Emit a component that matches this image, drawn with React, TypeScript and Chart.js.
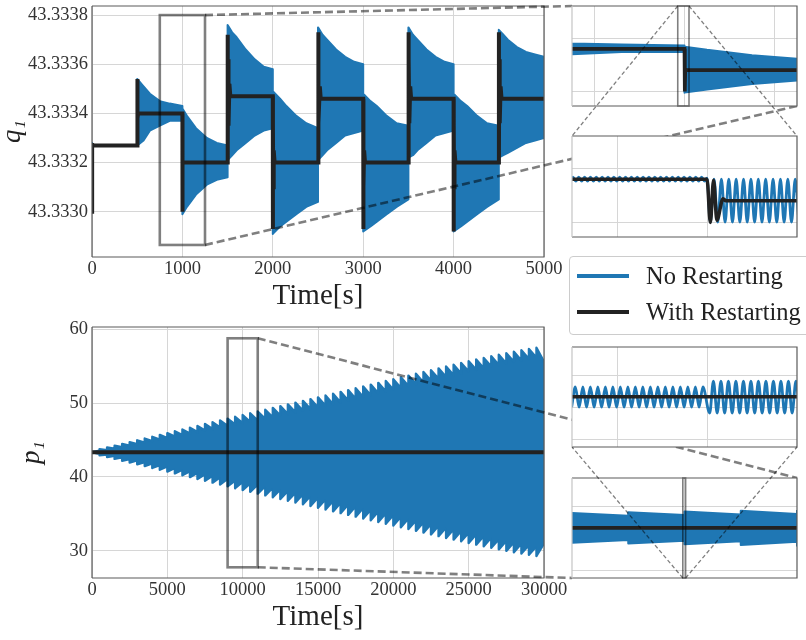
import React, { useEffect, useRef } from 'react';
import { Chart, registerables } from 'chart.js';

Chart.register(...registerables);

// ---------------- q1 (top panel) ----------------
const qXTicks = [0, 1000, 2000, 3000, 4000, 5000];
const qYTicks = [43.333, 43.3332, 43.3334, 43.3336, 43.3338];
const qInsetYTicks = [43.333, 43.3335];

// envelope of the fast oscillation ("No Restarting")
const qEnvT = [0, 2, 500, 500, 570, 640, 750, 860, 1000, 1000, 1050, 1150, 1270, 1380, 1500, 1500, 1550, 1600, 1700, 1800, 1900, 2000, 2000, 2080, 2150, 2260, 2370, 2500, 2500, 2550, 2600, 2700, 2800, 2900, 3000, 3000, 3080, 3150, 3260, 3370, 3500, 3500, 3550, 3600, 3700, 3800, 3900, 4000, 4000, 4080, 4150, 4260, 4370, 4500, 4500, 4550, 4600, 4700, 4800, 4900, 5000];
const qEnvUpper = [43.33328, 43.33327, 43.33327, 43.33354, 43.33351, 43.33348, 43.33345, 43.33344, 43.33343, 43.33342, 43.33339, 43.33334, 43.3333, 43.33328, 43.33327, 43.33376, 43.33373, 43.33371, 43.33366, 43.33362, 43.33359, 43.33358, 43.33349, 43.33346, 43.33343, 43.33339, 43.33336, 43.33334, 43.33375, 43.33372, 43.3337, 43.33366, 43.33363, 43.33361, 43.3336, 43.33348, 43.33345, 43.33343, 43.33339, 43.33336, 43.33335, 43.33375, 43.33372, 43.3337, 43.33366, 43.33363, 43.33361, 43.3336, 43.33348, 43.33345, 43.33343, 43.33339, 43.33336, 43.33335, 43.33374, 43.33372, 43.3337, 43.33367, 43.33365, 43.33364, 43.33363];
const qEnvLower = [43.333, 43.33327, 43.33327, 43.33327, 43.33329, 43.33333, 43.33335, 43.33337, 43.33337, 43.33299, 43.33302, 43.33307, 43.33311, 43.33313, 43.33314, 43.33321, 43.33323, 43.33325, 43.33328, 43.33331, 43.33333, 43.33334, 43.33291, 43.33294, 43.33296, 43.33299, 43.33302, 43.33304, 43.33321, 43.33323, 43.33325, 43.33328, 43.33331, 43.33332, 43.33333, 43.33292, 43.33294, 43.33296, 43.33299, 43.33302, 43.33305, 43.33322, 43.33323, 43.33325, 43.33328, 43.33331, 43.33332, 43.33333, 43.33292, 43.33294, 43.33296, 43.33299, 43.33302, 43.33305, 43.33322, 43.33323, 43.33324, 43.33326, 43.33328, 43.33329, 43.3333];

// "With Restarting"
const qRestartT = [0, 0, 3, 500, 500.6, 501.5, 503, 506, 510, 1000, 1000.37, 1000.73, 1001.1, 1001.78, 1002.1, 1500, 1500.6, 1502, 1505, 1510, 1520, 1530, 2000, 2000.6, 2002, 2005, 2010, 2020, 2500, 2500.6, 2502, 2505, 2510, 2520, 2530, 3000, 3000.6, 3002, 3005, 3010, 3020, 3500, 3500.6, 3502, 3505, 3510, 3520, 3530, 4000, 4000.6, 4002, 4005, 4010, 4020, 4500, 4500.6, 4502, 4505, 4510, 4520, 4530, 5000];
const qRestartV = [43.333, 43.33328, 43.33327, 43.33327, 43.33354, 43.33331, 43.33345, 43.33338, 43.3334, 43.3334, 43.333, 43.33339, 43.33302, 43.33322, 43.3332, 43.3332, 43.33372, 43.33324, 43.33362, 43.33335, 43.33352, 43.33347, 43.33347, 43.33293, 43.33335, 43.3331, 43.33325, 43.3332, 43.3332, 43.33373, 43.33322, 43.33362, 43.33336, 43.33351, 43.33346, 43.33346, 43.33293, 43.33335, 43.3331, 43.33325, 43.3332, 43.3332, 43.33373, 43.33322, 43.33362, 43.33336, 43.33351, 43.33346, 43.33346, 43.33292, 43.33335, 43.3331, 43.33325, 43.3332, 43.3332, 43.33373, 43.33322, 43.33362, 43.33336, 43.33351, 43.33346, 43.33346];

// fine-resolution oscillation around t = 1000 (extrema)
const qDetailT = [984.78, 985.1, 985.43, 985.75, 986.08, 986.4, 986.73, 987.05, 987.38, 987.7, 988.03, 988.35, 988.68, 989.0, 989.33, 989.65, 989.98, 990.3, 990.63, 990.95, 991.28, 991.6, 991.93, 992.25, 992.58, 992.9, 993.23, 993.55, 993.88, 994.2, 994.53, 994.85, 995.18, 995.5, 995.83, 996.15, 996.48, 996.8, 997.13, 997.45, 997.78, 998.1, 998.43, 998.75, 999.08, 999.4, 999.73, 1000.0, 1000.37, 1000.78, 1001.19, 1001.6, 1002.01, 1002.42, 1002.83, 1003.24, 1003.65, 1004.06, 1004.47, 1004.88, 1005.29, 1005.7, 1006.11, 1006.52, 1006.93, 1007.34, 1007.75, 1008.16, 1008.57, 1008.98, 1009.39, 1009.8, 1010.21];
const qDetailV = [
  43.333382,
  43.333418, 43.333382, 43.333418, 43.333382, 43.333418, 43.333382, 43.333418, 43.333382,
  43.333418, 43.333382, 43.333418, 43.333382, 43.333418, 43.333382, 43.333418, 43.333382,
  43.333418, 43.333382, 43.333418, 43.333382, 43.333418, 43.333382, 43.333418, 43.333382,
  43.333418, 43.333382, 43.333418, 43.333382, 43.333418, 43.333382, 43.333418, 43.333382,
  43.333418, 43.333382, 43.333418, 43.333382, 43.333418, 43.333382, 43.333418, 43.333382,
  43.333418, 43.333382, 43.333418, 43.333382, 43.333418, 43.333382,
  43.33341,
  43.333002, 43.3334, 43.333002, 43.3334, 43.333002, 43.3334, 43.333002, 43.3334,
  43.333002, 43.3334, 43.333002, 43.3334, 43.333002, 43.3334, 43.333002, 43.3334,
  43.333002, 43.3334, 43.333002, 43.3334, 43.333002, 43.3334, 43.333002, 43.3334,
  43.333002,
];

// ---------------- p1 (bottom panel) ----------------
const pXTicks = [0, 5000, 10000, 15000, 20000, 25000, 30000];
const pYTicks = [30, 40, 50, 60];
const pInsetYTicks = [30, 40, 50];

const pToothT = [0, 500, 1000, 1500, 2000, 2500, 3000, 3500, 4000, 4500, 5000, 5500, 6000, 6500, 7000, 7500, 8000, 8500, 9000, 9500, 10000, 10500, 11000, 11500, 12000, 12500, 13000, 13500, 14000, 14500, 15000, 15500, 16000, 16500, 17000, 17500, 18000, 18500, 19000, 19500, 20000, 20500, 21000, 21500, 22000, 22500, 23000, 23500, 24000, 24500, 25000, 25500, 26000, 26500, 27000, 27500, 28000, 28500, 29000, 29500];
const pUpStart = [43.33, 43.75, 43.98, 44.22, 44.47, 44.71, 44.96, 45.2, 45.44, 45.69, 45.93, 46.18, 46.42, 46.67, 46.91, 47.16, 47.4, 47.65, 47.89, 48.14, 48.38, 48.62, 48.86, 49.1, 49.34, 49.58, 49.82, 50.06, 50.3, 50.54, 50.78, 51.03, 51.27, 51.52, 51.76, 52.01, 52.25, 52.5, 52.74, 52.99, 53.23, 53.48, 53.72, 53.97, 54.21, 54.46, 54.7, 54.95, 55.19, 55.44, 55.68, 55.9, 56.12, 56.34, 56.55, 56.76, 56.96, 57.15, 57.33, 57.5];
const pUpEnd = [43.55, 43.63, 43.82, 44.02, 44.23, 44.43, 44.64, 44.84, 45.04, 45.25, 45.45, 45.66, 45.86, 46.07, 46.27, 46.48, 46.68, 46.89, 47.09, 47.28, 47.46, 47.64, 47.86, 48.08, 48.3, 48.52, 48.74, 48.96, 49.18, 49.4, 49.62, 49.85, 50.09, 50.34, 50.58, 50.83, 51.07, 51.32, 51.56, 51.81, 52.05, 52.3, 52.54, 52.79, 53.03, 53.28, 53.52, 53.77, 54.01, 54.26, 54.5, 54.72, 54.94, 55.16, 55.37, 55.58, 55.78, 55.97, 56.15, 55.6];
const pLoStart = [43.33, 42.92, 42.68, 42.44, 42.19, 41.95, 41.7, 41.46, 41.21, 40.97, 40.72, 40.47, 40.22, 39.97, 39.72, 39.47, 39.22, 38.97, 38.72, 38.47, 38.22, 37.97, 37.73, 37.49, 37.25, 37.01, 36.77, 36.53, 36.29, 36.05, 35.81, 35.57, 35.33, 35.09, 34.85, 34.61, 34.37, 34.13, 33.89, 33.65, 33.41, 33.17, 32.93, 32.69, 32.45, 32.21, 31.97, 31.73, 31.5, 31.27, 31.04, 30.82, 30.6, 30.39, 30.18, 29.98, 29.79, 29.61, 29.44, 29.28];
const pLoEnd = [43.12, 43.04, 42.84, 42.64, 42.43, 42.23, 42.02, 41.82, 41.61, 41.41, 41.2, 40.99, 40.78, 40.57, 40.36, 40.15, 39.94, 39.73, 39.52, 39.33, 39.14, 38.97, 38.75, 38.53, 38.31, 38.09, 37.87, 37.65, 37.43, 37.21, 36.99, 36.75, 36.51, 36.27, 36.03, 35.79, 35.55, 35.31, 35.07, 34.83, 34.59, 34.35, 34.11, 33.87, 33.63, 33.39, 33.15, 32.91, 32.68, 32.45, 32.22, 32.0, 31.78, 31.57, 31.36, 31.16, 30.97, 30.79, 30.62, 31.0];

const pRestartT = [0, 30000];
const pRestartV = [43.33, 43.33];

const pDetailT = [9984.96, 9985.37, 9985.79, 9986.21, 9986.62, 9987.04, 9987.46, 9987.87, 9988.29, 9988.71, 9989.12, 9989.54, 9989.96, 9990.37, 9990.79, 9991.21, 9991.62, 9992.04, 9992.46, 9992.87, 9993.29, 9993.71, 9994.12, 9994.54, 9994.96, 9995.37, 9995.79, 9996.21, 9996.62, 9997.04, 9997.46, 9997.87, 9998.29, 9998.71, 9999.12, 9999.54, 10000.3, 10000.71, 10001.13, 10001.55, 10001.96, 10002.38, 10002.8, 10003.21, 10003.63, 10004.05, 10004.46, 10004.88, 10005.3, 10005.71, 10006.13, 10006.55, 10006.96, 10007.38, 10007.8, 10008.21, 10008.63, 10009.05, 10009.46, 10009.88, 10010.3];
const pDetailV = [
  40.1, 46.4, 40.1, 46.4, 40.1, 46.4, 40.1, 46.4, 40.1, 46.4, 40.1, 46.4,
  40.1, 46.4, 40.1, 46.4, 40.1, 46.4, 40.1, 46.4, 40.1, 46.4, 40.1, 46.4,
  40.1, 46.4, 40.1, 46.4, 40.1, 46.4, 40.1, 46.4, 40.1, 46.4, 40.1, 46.4,
  38.3, 48.2, 38.3, 48.2, 38.3, 48.2, 38.3, 48.2, 38.3, 48.2, 38.3, 48.2,
  38.3, 48.2, 38.3, 48.2, 38.3, 48.2, 38.3, 48.2, 38.3, 48.2, 38.3, 48.2,
  38.3,
];

// zoom windows
const qMainX = [0, 5000];
const qMainY = [43.332816, 43.333837];
const pMainX = [0, 30000];
const pMainY = [26.3, 60.31];
const in1X = [750, 1250];
const in2X = [985, 1010];
const qZoomY = [43.332865, 43.3338];
const in3X = [9985, 10010];
const in4X = [9000, 11000];
const pZoomY = [27.75, 58.78];
const in1XTicks = [800, 1000, 1200];
const in2XTicks = [990, 1000];
const in3XTicks = [9990, 10000];
const in4XTicks = [10000];

// ---------------- styling ----------------
const BLUE = '#1f77b4';
const BLACK = '#222222';
const GRID = '#d6d6d6';
const SPINE = '#5a5a5a';
const FONT = "'Liberation Serif', 'Times New Roman', serif";

type Rect = { x0: number; x1: number; y0: number; y1: number; lw: number };

const pts = (xs: number[], ys: number[]) => xs.map((x, i) => ({ x, y: ys[i] }));

function teeth(tooth: number[], starts: number[], ends: number[], tEnd: number) {
  const out: { x: number; y: number }[] = [];
  for (let k = 0; k < tooth.length; k++) {
    out.push({ x: tooth[k], y: starts[k] });
    out.push({ x: k + 1 < tooth.length ? tooth[k + 1] : tEnd, y: ends[k] });
  }
  return out;
}

function framePlugin(rects: Rect[], bg: boolean, leftColor: string) {
  return {
    id: 'frame',
    beforeDraw(chart: any) {
      if (!bg) return;
      const { ctx, chartArea: a } = chart;
      ctx.save();
      ctx.fillStyle = '#ffffff';
      ctx.fillRect(a.left, a.top, a.right - a.left, a.bottom - a.top);
      ctx.restore();
    },
    afterDatasetsDraw(chart: any) {
      const { ctx } = chart;
      const x = chart.scales.x;
      const y = chart.scales.y;
      ctx.save();
      ctx.strokeStyle = 'rgba(0,0,0,0.5)';
      rects.forEach((r) => {
        ctx.lineWidth = r.lw;
        const px0 = x.getPixelForValue(r.x0);
        const px1 = x.getPixelForValue(r.x1);
        const py0 = y.getPixelForValue(r.y1);
        const py1 = y.getPixelForValue(r.y0);
        ctx.strokeRect(px0, py0, px1 - px0, py1 - py0);
      });
      ctx.restore();
    },
    afterDraw(chart: any) {
      const { ctx, chartArea: a } = chart;
      ctx.save();
      ctx.lineWidth = 1.2;
      ctx.strokeStyle = SPINE;
      ctx.beginPath();
      ctx.moveTo(a.left, a.top);
      ctx.lineTo(a.right, a.top);
      ctx.lineTo(a.right, a.bottom);
      ctx.lineTo(a.left, a.bottom);
      ctx.stroke();
      ctx.strokeStyle = leftColor;
      ctx.beginPath();
      ctx.moveTo(a.left, a.top);
      ctx.lineTo(a.left, a.bottom);
      ctx.stroke();
      ctx.restore();
    },
  };
}

type AxisSpec = {
  range: number[];
  ticks: number[];
  size: number;
  fmt?: (v: number) => string;
  title?: string;
  titlePad?: number;
};

function axis(spec: AxisSpec, horizontal: boolean, labels: boolean) {
  return {
    type: 'linear',
    position: horizontal ? 'bottom' : 'left',
    min: spec.range[0],
    max: spec.range[1],
    afterBuildTicks: (s: any) => {
      s.ticks = spec.ticks.map((v) => ({ value: v }));
    },
    afterFit: (s: any) => {
      if (horizontal) s.height = spec.size;
      else s.width = spec.size;
      s.paddingTop = 0;
      s.paddingBottom = 0;
      s.paddingLeft = 0;
      s.paddingRight = 0;
    },
    grid: { color: GRID, lineWidth: 1, drawTicks: false },
    border: { display: false },
    ticks: {
      display: labels,
      autoSkip: false,
      maxRotation: 0,
      padding: horizontal ? 1 : 4,
      color: '#333333',
      font: { family: FONT, size: 18.5 },
      callback: (v: any) => (spec.fmt ? spec.fmt(Number(v)) : String(v)),
    },
    title: spec.title
      ? {
          display: true,
          text: spec.title,
          color: '#222222',
          font: horizontal
            ? { family: FONT, size: 29, lineHeight: 1 }
            : { family: FONT, size: 27, style: 'italic', lineHeight: 1 },
          padding: horizontal ? { top: 0, bottom: spec.titlePad || 0 } : { top: spec.titlePad || 0, bottom: 0 },
        }
      : { display: false },
  };
}

function config(datasets: any[], x: AxisSpec, y: AxisSpec, padding: any, labels: boolean, rects: Rect[], bg: boolean, leftColor: string) {
  return {
    type: 'line',
    data: { datasets },
    options: {
      responsive: false,
      animation: false,
      devicePixelRatio: 1,
      events: [],
      layout: { padding, autoPadding: false },
      plugins: { legend: { display: false }, tooltip: { enabled: false } },
      elements: { point: { radius: 0 }, line: { tension: 0 } },
      scales: { x: axis(x, true, labels), y: axis(y, false, labels) },
    },
    plugins: [framePlugin(rects, bg, leftColor)],
  } as any;
}

const blackDs = (data: any[], bw: number, smooth = false) => ({
  data, borderColor: BLACK, borderWidth: bw, fill: false, pointRadius: 0, clip: 0, order: 0,
  cubicInterpolationMode: smooth ? 'monotone' : 'default',
});
const upperDs = (data: any[], bw: number) => ({
  data, borderColor: BLUE, backgroundColor: BLUE, borderWidth: bw, fill: '+1', pointRadius: 0, clip: 0, order: 2,
  borderJoinStyle: 'round',
});
const lowerDs = (data: any[], bw: number) => ({
  data, borderColor: BLUE, borderWidth: bw, fill: false, pointRadius: 0, clip: 0, order: 3,
  borderJoinStyle: 'round',
});
const waveDs = (data: any[], bw: number) => ({
  data, borderColor: BLUE, borderWidth: bw, fill: false, pointRadius: 0, clip: 0, order: 1, cubicInterpolationMode: 'monotone',
});

// canvas placements
const POS = {
  q: { left: 0, top: 0, w: 570, h: 311 },
  p: { left: 0, top: 311, w: 570, h: 329 },
  i1: { left: 570, top: 4, w: 229, h: 104 },
  i2: { left: 570, top: 134, w: 229, h: 105 },
  i3: { left: 570, top: 345, w: 229, h: 104 },
  i4: { left: 570, top: 476, w: 229, h: 104 },
};

export default function App() {
  const qRef = useRef<HTMLCanvasElement>(null);
  const pRef = useRef<HTMLCanvasElement>(null);
  const i1Ref = useRef<HTMLCanvasElement>(null);
  const i2Ref = useRef<HTMLCanvasElement>(null);
  const i3Ref = useRef<HTMLCanvasElement>(null);
  const i4Ref = useRef<HTMLCanvasElement>(null);
  const bigRef = useRef<HTMLCanvasElement>(null);
  const thinRef = useRef<HTMLCanvasElement>(null);

  useEffect(() => {
    const qEnvU = pts(qEnvT, qEnvUpper);
    const qEnvL = pts(qEnvT, qEnvLower);
    const qBlack = pts(qRestartT, qRestartV);
    const qBlackNear = qBlack.filter((d) => d.x >= 506 && d.x <= 1500);
    const qWave = pts(qDetailT, qDetailV);
    const pEnvU = teeth(pToothT, pUpStart, pUpEnd, pMainX[1]);
    const pEnvL = teeth(pToothT, pLoStart, pLoEnd, pMainX[1]);
    const pBlack = pts(pRestartT, pRestartV);
    const pWave = pts(pDetailT, pDetailV);

    const fmtQ = (v: number) => v.toFixed(4);
    const pad0 = { left: 2, right: 2, top: 2, bottom: 2 };

    const q = new Chart(qRef.current!, config(
      [blackDs(qBlack, 4), upperDs(qEnvU, 2), lowerDs(qEnvL, 2)],
      { range: qMainX, ticks: qXTicks, size: 54, title: 'Time[s]', titlePad: 0 },
      { range: qMainY, ticks: qYTicks, size: 92, fmt: fmtQ, title: 'q\u2081', titlePad: -1 },
      { left: 0, right: 26, top: 6, bottom: 0 }, true,
      [{ x0: in1X[0], x1: in1X[1], y0: qZoomY[0], y1: qZoomY[1], lw: 2.6 }], false, SPINE,
    ));
    const p = new Chart(pRef.current!, config(
      [blackDs(pBlack, 4), upperDs(pEnvU, 2.4), lowerDs(pEnvL, 2.4)],
      { range: pMainX, ticks: pXTicks, size: 62, title: 'Time[s]', titlePad: 8 },
      { range: pMainY, ticks: pYTicks, size: 92, title: 'p\u2081', titlePad: 18 },
      { left: 0, right: 26, top: 16, bottom: 0 }, true,
      [{ x0: in4X[0], x1: in4X[1], y0: pZoomY[0], y1: pZoomY[1], lw: 2.6 }], false, SPINE,
    ));
    const i1 = new Chart(i1Ref.current!, config(
      [blackDs(qBlack, 3.7), upperDs(qEnvU, 2), lowerDs(qEnvL, 2)],
      { range: in1X, ticks: in1XTicks, size: 0 },
      { range: qZoomY, ticks: qInsetYTicks, size: 0 },
      pad0, false,
      [{ x0: in2X[0], x1: in2X[1], y0: qZoomY[0], y1: qZoomY[1], lw: 1.6 }], true, '#c4c4c4',
    ));
    const i2 = new Chart(i2Ref.current!, config(
      [blackDs(qBlackNear, 3.5, true), waveDs(qWave, 2.8)],
      { range: in2X, ticks: in2XTicks, size: 0 },
      { range: qZoomY, ticks: qInsetYTicks, size: 0 },
      pad0, false, [], true, '#c4c4c4',
    ));
    const i3 = new Chart(i3Ref.current!, config(
      [blackDs(pBlack, 3.5), waveDs(pWave, 2.8)],
      { range: in3X, ticks: in3XTicks, size: 0 },
      { range: pZoomY, ticks: pInsetYTicks, size: 0 },
      pad0, false, [], true, '#c4c4c4',
    ));
    const i4 = new Chart(i4Ref.current!, config(
      [blackDs(pBlack, 3.7), upperDs(pEnvU, 2), lowerDs(pEnvL, 2)],
      { range: in4X, ticks: in4XTicks, size: 0 },
      { range: pZoomY, ticks: pInsetYTicks, size: 0 },
      pad0, false,
      [{ x0: in3X[0], x1: in3X[1], y0: pZoomY[0], y1: pZoomY[1], lw: 1.6 }], true, '#c4c4c4',
    ));

    const at = (c: any, pos: any, xv: number, yv: number) => ({
      x: pos.left + c.scales.x.getPixelForValue(xv),
      y: pos.top + c.scales.y.getPixelForValue(yv),
    });
    const corner = (c: any, pos: any, h: 'l' | 'r', v: 't' | 'b') => ({
      x: pos.left + (h === 'l' ? c.chartArea.left : c.chartArea.right),
      y: pos.top + (v === 't' ? c.chartArea.top : c.chartArea.bottom),
    });
    const line = (ctx: CanvasRenderingContext2D, a: any, b: any) => {
      ctx.beginPath();
      ctx.moveTo(a.x, a.y);
      ctx.lineTo(b.x, b.y);
      ctx.stroke();
    };

    const big = bigRef.current!.getContext('2d')!;
    big.clearRect(0, 0, 806, 640);
    big.strokeStyle = 'rgba(0,0,0,0.5)';
    big.lineWidth = 2.6;
    big.setLineDash([8, 4]);
    line(big, at(q, POS.q, in1X[1], qZoomY[1]), corner(i1, POS.i1, 'l', 't'));
    line(big, at(q, POS.q, in1X[1], qZoomY[0]), corner(i1, POS.i1, 'r', 'b'));
    line(big, at(p, POS.p, in4X[1], pZoomY[1]), corner(i4, POS.i4, 'r', 't'));
    line(big, at(p, POS.p, in4X[1], pZoomY[0]), corner(i4, POS.i4, 'l', 'b'));

    const thin = thinRef.current!.getContext('2d')!;
    thin.clearRect(0, 0, 806, 640);
    thin.strokeStyle = 'rgba(0,0,0,0.5)';
    thin.lineWidth = 1.3;
    thin.setLineDash([4, 2.5]);
    line(thin, at(i1, POS.i1, in2X[0], qZoomY[1]), corner(i2, POS.i2, 'l', 't'));
    line(thin, at(i1, POS.i1, in2X[1], qZoomY[1]), corner(i2, POS.i2, 'r', 't'));
    line(thin, at(i4, POS.i4, in3X[0], pZoomY[0]), corner(i3, POS.i3, 'l', 'b'));
    line(thin, at(i4, POS.i4, in3X[1], pZoomY[0]), corner(i3, POS.i3, 'r', 'b'));

    const charts = [q, p, i1, i2, i3, i4];
    return () => charts.forEach((c) => c.destroy());
  }, []);

  const cv = (ref: any, pos: any) => (
    <canvas
      ref={ref}
      width={pos.w}
      height={pos.h}
      style={{ position: 'absolute', left: pos.left, top: pos.top, width: pos.w, height: pos.h }}
    />
  );

  const legendText: React.CSSProperties = {
    position: 'absolute', left: 76, fontFamily: FONT, fontSize: 24.5, lineHeight: '24px',
    whiteSpace: 'nowrap', color: '#222222',
  };

  return (
    <div style={{ position: 'fixed', left: 0, top: 0, width: 806, height: 640, overflow: 'hidden', background: '#ffffff' }}>
      {cv(qRef, POS.q)}
      {cv(pRef, POS.p)}
      <canvas ref={bigRef} width={806} height={640} style={{ position: 'absolute', left: 0, top: 0, width: 806, height: 640 }} />
      {cv(i1Ref, POS.i1)}
      {cv(i2Ref, POS.i2)}
      {cv(i3Ref, POS.i3)}
      {cv(i4Ref, POS.i4)}
      <canvas ref={thinRef} width={806} height={640} style={{ position: 'absolute', left: 0, top: 0, width: 806, height: 640 }} />
      <div style={{
        position: 'absolute', left: 569, top: 256, width: 262, height: 79, boxSizing: 'border-box',
        border: '1px solid #cccccc', borderRadius: 4, background: 'rgba(255,255,255,0.85)',
      }}>
        <div style={{ position: 'absolute', left: 7, top: 16.7, width: 52, height: 4, background: BLUE }} />
        <div style={{ ...legendText, top: 7.3 }}>No Restarting</div>
        <div style={{ position: 'absolute', left: 7, top: 53.3, width: 52, height: 4, background: BLACK }} />
        <div style={{ ...legendText, top: 43 }}>With Restarting</div>
      </div>
    </div>
  );
}
